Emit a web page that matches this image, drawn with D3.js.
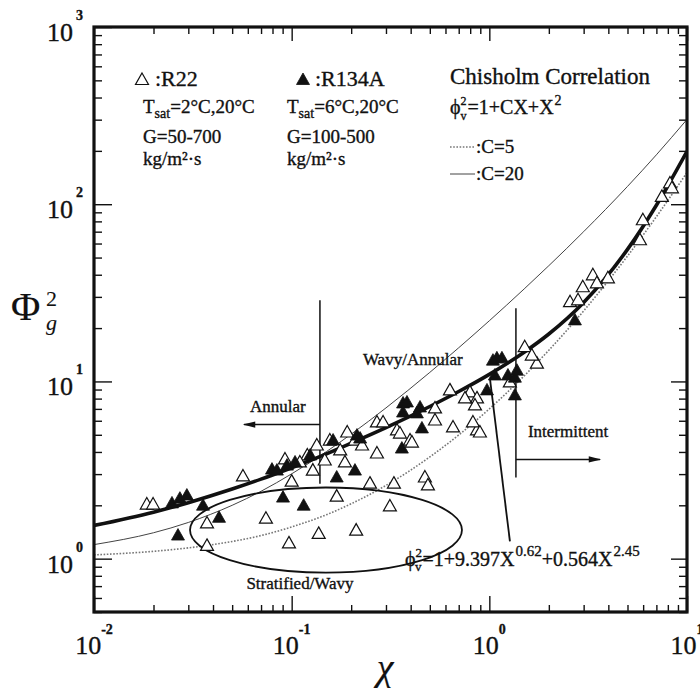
<!DOCTYPE html>
<html><head><meta charset="utf-8">
<script src="https://cdn.jsdelivr.net/npm/d3@7"></script>
<style>
body{margin:0;background:#fff}
svg{display:block}
text{font-family:"Liberation Serif","Times New Roman",serif;fill:#111;stroke:#111;stroke-width:0.35px}
</style>
</head><body>
<svg id="chart" width="700" height="690"></svg>
<script>
// ---------- DATA ----------
// R22 (open triangles): Lockhart-Martinelli parameter X and two-phase multiplier Phi_g^2
const r22X = [0.0185,0.0199,0.0373,0.0373,0.0741,0.0969,0.137,0.212,0.169,0.249,0.329,0.314,0.0567,0.0925,0.100,0.128,0.134,0.147,0.120,0.191,0.186,0.270,0.270,0.290,0.341,0.397,0.353,0.472,0.489,0.655,0.866,0.826,0.632,0.798,0.866,0.846,0.531,0.531,0.753,0.896,0.406,1.27,1.51,1.74,1.64,2.56,2.81,2.97,3.34,3.50,3.98,8.20,8.39,5.98,5.78,7.46,0.156,0.176,0.110,0.209,0.227];
const r22Y = [2.02,2.02,1.58,1.18,1.68,1.22,1.38,1.44,2.24,2.65,2.65,1.97,2.91,3.63,2.72,3.14,4.35,3.58,3.82,5.15,3.49,3.92,5.87,5.87,5.29,4.64,5.08,2.87,2.59,5.50,5.29,5.87,8.90,8.67,8.02,7.32,6.02,7.04,8.02,5.15,4.52,9.87,15.6,12.6,14.0,28.0,28.7,34.0,39.7,35.8,38.2,131,123,81.2,62.6,110,4.64,4.08,3.49,4.64,4.35];
// R134A (filled triangles)
const r134aX = [0.0248,0.0272,0.0295,0.0356,0.0429,0.0266,0.0904,0.115,0.169,0.209,0.0795,0.0842,0.162,0.214,0.222,0.366,0.361,0.383,0.366,0.446,0.456,0.430,1.043,0.973,1.092,1.158,1.242,1.347,1.379,1.347,1.067,2.71,0.104,0.124,0.0947];
const r134aY = [2.05,2.18,2.27,1.99,1.70,1.35,2.21,1.99,2.87,3.14,3.18,3.14,4.64,4.95,4.76,7.51,4.18,7.61,6.68,7.13,5.43,6.60,13.1,8.90,13.5,13.5,10.8,10.5,11.5,8.34,10.8,22.1,3.49,3.82,3.35];
// correlation curves read along X
const curveX = [0.01,0.02,0.03,0.05,0.07,0.1,0.15,0.2,0.3,0.5,0.7,1,1.5,2,3,5,7,10];
const chisholmC5 = [1.05,1.10,1.15,1.25,1.35,1.51,1.77,2.04,2.59,3.75,4.99,7.0,10.75,15.0,25.0,51.0,85.0,151];
const chisholmC20 = [1.20,1.40,1.60,2.00,2.40,3.01,4.02,5.04,7.09,11.25,15.49,22.0,33.25,45.0,70.0,126,190,301];
const proposedFit = [1.54,1.83,2.07,2.47,2.81,3.26,3.90,4.48,5.48,7.22,8.77,10.96,14.61,18.52,27.89,55.6,98.7,199];
// axis ticks
const xTickValues = [0.01,0.1,1,10];
const xTickExponents = ["-2","-1","0","1"];
const yTickValues = [1,10,100,1000];
const yTickExponents = ["0","1","2","3"];
// flow-regime annotations (data coordinates)
const annularBoundaryX = 0.139, annularBoundaryY = [28.7, 2.65];
const annularArrowX = [0.139, 0.0574], annularArrowY = 5.71;
const intermittentBoundaryX = 1.363, intermittentBoundaryY = [25.9, 2.87];
const intermittentArrowX = [1.363, 3.63], intermittentArrowY = 3.63;
const stratifiedEllipseX = [0.0306, 0.727], stratifiedEllipseY = [0.834, 2.52];
const pointerX = [1.007, 1.271], pointerY = [10.4, 1.25];

// ---------- SCALES ----------
const svg = d3.select("#chart");
const L=94, R=687, T=27, B=612;
const x = d3.scaleLog().domain([0.01,10]).range([L,R]);
const y = d3.scaleLog().domain([0.5,1000]).range([B,T]);
const isMajor = v => Math.abs(Math.log10(v) - Math.round(Math.log10(v))) < 1e-6;
const minorX = x.ticks().filter(v => !isMajor(v));
const minorY = y.ticks().filter(v => !isMajor(v));

svg.append("defs").append("clipPath").attr("id","clip")
  .append("rect").attr("x",L).attr("y",T).attr("width",R-L).attr("height",B-T);
svg.select("defs").append("marker").attr("id","arrow").attr("viewBox","0 0 10 6")
  .attr("refX",9).attr("refY",3).attr("markerWidth",9).attr("markerHeight",5).attr("orient","auto")
  .append("path").attr("d","M0,0.5L10,3L0,5.5Z").attr("fill","#111");

// ---------- AXES ----------
function axis(gen, tr, vals, size){
  const g = svg.append("g").attr("transform",tr)
    .call(gen.tickValues(vals).tickSizeInner(size).tickSizeOuter(0).tickFormat(""));
  g.select(".domain").remove();
  g.selectAll("line").attr("stroke","#111").attr("stroke-width",1.4);
}
axis(d3.axisBottom(x), `translate(0,${B})`, minorX, -7);
axis(d3.axisBottom(x), `translate(0,${B})`, xTickValues, -16);
axis(d3.axisTop(x), `translate(0,${T})`, minorX, -7);
axis(d3.axisTop(x), `translate(0,${T})`, xTickValues, -14);
axis(d3.axisLeft(y), `translate(${L},0)`, minorY, -8);
axis(d3.axisLeft(y), `translate(${L},0)`, yTickValues, -18);
axis(d3.axisRight(y), `translate(${R},0)`, minorY, -8);
axis(d3.axisRight(y), `translate(${R},0)`, yTickValues, -16);

// tick labels
xTickValues.forEach((v,i)=>{
  const t = svg.append("text").attr("x",x(v)).attr("y",654).attr("text-anchor","middle").style("font-size","26px");
  t.append("tspan").text("10");
  t.append("tspan").attr("dy",-20).style("font-size","14px").style("font-weight","bold").text(xTickExponents[i]);
});
yTickValues.forEach((v,i)=>{
  svg.append("text").attr("x",73).attr("y",y(v)+14).attr("text-anchor","end").style("font-size","26px").text("10");
  svg.append("text").attr("x",76).attr("y",y(v)-7).style("font-size","14px").style("font-weight","bold").text(yTickExponents[i]);
});
// axis titles
svg.append("text").attr("x",385).attr("y",680).attr("text-anchor","middle")
  .style("font-size","38px").style("font-style","italic").style("stroke-width","0.2px").text("\u03c7");
svg.append("text").attr("x",11).attr("y",320).style("font-size","40px").style("stroke-width","0.2px").text("\u03a6");
svg.append("text").attr("x",46).attr("y",306).style("font-size","22px").style("stroke-width","0.1px").text("2");
svg.append("text").attr("x",46).attr("y",330).style("font-size","22px").style("font-style","italic").style("stroke-width","0.1px").text("g");

// ---------- CURVES ----------
const plotG = svg.append("g").attr("clip-path","url(#clip)");
const line = arr => d3.line().x((d,i)=>x(curveX[i])).y(d=>y(d)).curve(d3.curveMonotoneX)(arr);
plotG.append("path").attr("d",line(chisholmC5)).attr("fill","none").attr("stroke","#777")
  .attr("stroke-width",1.6).attr("stroke-dasharray","1.6,1.6");
plotG.append("path").attr("d",line(chisholmC20)).attr("fill","none").attr("stroke","#444").attr("stroke-width",1);
plotG.append("path").attr("d",line(proposedFit)).attr("fill","none").attr("stroke","#111").attr("stroke-width",3.6);

// ---------- ANNOTATIONS ----------
const ann = svg.append("g").attr("stroke","#111").attr("stroke-width",1.5).attr("fill","none");
ann.append("line").attr("x1",x(annularBoundaryX)).attr("x2",x(annularBoundaryX))
  .attr("y1",y(annularBoundaryY[0])).attr("y2",y(annularBoundaryY[1]));
ann.append("line").attr("x1",x(annularArrowX[0])).attr("x2",x(annularArrowX[1]))
  .attr("y1",y(annularArrowY)).attr("y2",y(annularArrowY)).attr("marker-end","url(#arrow)");
ann.append("line").attr("x1",x(intermittentBoundaryX)).attr("x2",x(intermittentBoundaryX))
  .attr("y1",y(intermittentBoundaryY[0])).attr("y2",y(intermittentBoundaryY[1]));
ann.append("line").attr("x1",x(intermittentArrowX[0])).attr("x2",x(intermittentArrowX[1]))
  .attr("y1",y(intermittentArrowY)).attr("y2",y(intermittentArrowY)).attr("marker-end","url(#arrow)");
ann.append("ellipse")
  .attr("cx",(x(stratifiedEllipseX[0])+x(stratifiedEllipseX[1]))/2)
  .attr("cy",(y(stratifiedEllipseY[0])+y(stratifiedEllipseY[1]))/2)
  .attr("rx",(x(stratifiedEllipseX[1])-x(stratifiedEllipseX[0]))/2)
  .attr("ry",(y(stratifiedEllipseY[0])-y(stratifiedEllipseY[1]))/2).attr("stroke-width",1.8);
ann.append("line").attr("x1",x(pointerX[0])).attr("x2",x(pointerX[1]))
  .attr("y1",y(pointerY[0])).attr("y2",y(pointerY[1])).attr("stroke-width",1.8);

const label = (tx,ty,s,anchor) => svg.append("text").attr("x",tx).attr("y",ty)
  .attr("text-anchor",anchor||"start").style("font-size","17px").text(s);
label(x(0.0851), y(6.68), "Annular", "middle");
label(x(1.568), y(4.83), "Intermittent");
label(x(0.2294), y(12.31), "Wavy/Annular");
label(x(0.1102), y(0.677), "Stratified/Wavy", "middle");

// rich text helper: parts = [text, size, dx, dy]
function rich(tx, ty, parts){
  const t = svg.append("text").attr("x",tx).attr("y",ty);
  parts.forEach(p=>{ t.append("tspan").attr("dx",p[2]||0).attr("dy",p[3]||0).style("font-size",p[1]+"px").text(p[0]); });
  return t;
}
rich(405, 566, [["\u03d5",20],["2",13,0,-9],["v",13,-7,14],["=1+9.397X",20,1,-5],["0.62",15,1,-10],["+0.564X",20,0,10],["2.45",15,1,-10]]);

// ---------- DATA MARKS ----------
const tri = "M0,-7L6.5,4.5L-6.5,4.5Z";
svg.append("g").selectAll("path").data(r22X).join("path")
  .attr("d",tri).attr("transform",(d,i)=>`translate(${x(d)},${y(r22Y[i])})`)
  .attr("fill","#fff").attr("stroke","#111").attr("stroke-width",1.2);
svg.append("g").selectAll("path").data(r134aX).join("path")
  .attr("d",tri).attr("transform",(d,i)=>`translate(${x(d)},${y(r134aY[i])})`)
  .attr("fill","#111").attr("stroke","#111").attr("stroke-width",0.8);

// ---------- LEGEND ----------
svg.append("path").attr("d",tri).attr("transform","translate(142,80)").attr("fill","#fff").attr("stroke","#111").attr("stroke-width",1.2);
svg.append("text").attr("x",155).attr("y",86).style("font-size","22px").text(":R22");
rich(143,113,[["T",19],["sat",14,0,5],["=2\u00b0C,20\u00b0C",19,0,-5]]);
svg.append("text").attr("x",143).attr("y",143).style("font-size","19px").text("G=50-700");
svg.append("text").attr("x",143).attr("y",165).style("font-size","19px").text("kg/m\u00b2\u00b7s");

svg.append("path").attr("d",tri).attr("transform","translate(303,80)").attr("fill","#111").attr("stroke","#111").attr("stroke-width",0.8);
svg.append("text").attr("x",315).attr("y",86).style("font-size","22px").text(":R134A");
rich(287,113,[["T",19],["sat",14,0,5],["=6\u00b0C,20\u00b0C",19,0,-5]]);
svg.append("text").attr("x",287).attr("y",143).style("font-size","19px").text("G=100-500");
svg.append("text").attr("x",287).attr("y",165).style("font-size","19px").text("kg/m\u00b2\u00b7s");

svg.append("text").attr("x",450).attr("y",84).style("font-size","23px").text("Chisholm Correlation");
rich(450,114,[["\u03d5",20],["2",12,0,-9],["v",12,-6,15],["=1+CX+X",20,1,-6],["2",14,1,-9]]);
svg.append("line").attr("x1",450).attr("x2",475).attr("y1",147).attr("y2",147)
  .attr("stroke","#777").attr("stroke-width",1.6).attr("stroke-dasharray","1.6,1.6");
svg.append("text").attr("x",476).attr("y",153).style("font-size","19px").text(":C=5");
svg.append("line").attr("x1",450).attr("x2",475).attr("y1",174).attr("y2",174).attr("stroke","#444").attr("stroke-width",1);
svg.append("text").attr("x",476).attr("y",180).style("font-size","19px").text(":C=20");

// frame
svg.append("rect").attr("x",L).attr("y",T).attr("width",R-L).attr("height",B-T)
  .attr("fill","none").attr("stroke","#111").attr("stroke-width",3.2);
</script>
</body></html>
